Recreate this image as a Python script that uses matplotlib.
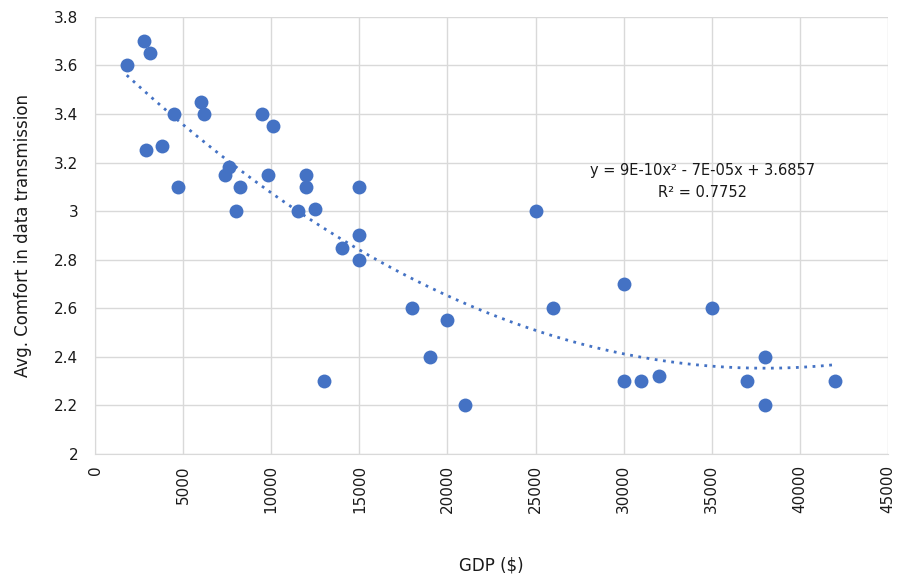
import numpy as np
import matplotlib.pyplot as plt

gdp = [1800, 2800, 3100, 2900, 3800, 4500, 4700, 6000, 6200, 7400, 7600, 8000,
       8200, 9500, 9800, 10100, 11500, 12000, 12000, 12500, 13000, 14000, 15000,
       15000, 15000, 18000, 19000, 20000, 21000, 25000, 26000, 30000, 30000,
       31000, 32000, 35000, 37000, 38000, 38000, 42000]
comfort = [3.6, 3.7, 3.65, 3.25, 3.27, 3.4, 3.1, 3.45, 3.4, 3.15, 3.18, 3.0,
           3.1, 3.4, 3.15, 3.35, 3.0, 3.15, 3.1, 3.01, 2.3, 2.85, 3.1,
           2.9, 2.8, 2.6, 2.4, 2.55, 2.2, 3.0, 2.6, 2.7, 2.3,
           2.3, 2.32, 2.6, 2.3, 2.4, 2.2, 2.3]

blue = '#4472C4'
grid = '#d9d9d9'
txt = '#1a1a1a'

fig = plt.figure(figsize=(9, 5.79), dpi=100)
ax = fig.add_axes([0.1056, 0.2159, 0.881, 0.755])

ax.scatter(gdp, comfort, s=100, color=blue, zorder=3, linewidths=0)

# quadratic trendline
coef = np.polyfit(gdp, comfort, 2)
xs = np.linspace(min(gdp), max(gdp), 200)
ax.plot(xs, np.polyval(coef, xs), color=blue, linestyle=(0, (1, 2)), linewidth=2, zorder=2)

ax.text(34500, 3.166, 'y = 9E-10x² - 7E-05x + 3.6857', ha='center', va='center',
        fontsize=10.5, color=txt)
ax.text(34500, 3.075, 'R² = 0.7752', ha='center', va='center',
        fontsize=10.5, color=txt)

ax.set_xlim(0, 45000)
ax.set_ylim(2, 3.8)
ax.set_xticks(np.arange(0, 45001, 5000))
ax.set_yticks(np.arange(2, 3.81, 0.2))
ax.set_yticklabels(['2', '2.2', '2.4', '2.6', '2.8', '3', '3.2', '3.4', '3.6', '3.8'])
ax.tick_params(axis='x', labelrotation=90, pad=8)
ax.tick_params(axis='y', pad=12)
ax.tick_params(length=0, labelsize=11, colors=txt)
ax.grid(True, color=grid, linewidth=1)
ax.set_axisbelow(True)
for s in ['top', 'right']:
    ax.spines[s].set_visible(False)
for s in ['left', 'bottom']:
    ax.spines[s].set_color(grid)

ax.set_xlabel('GDP ($)', fontsize=12, color=txt)
ax.set_ylabel('Avg. Comfort in data transmission', fontsize=12, color=txt)
ax.xaxis.set_label_coords(0.5, -0.235)
ax.yaxis.set_label_coords(-0.08, 0.5)

fig.savefig('out.png', dpi=100)
